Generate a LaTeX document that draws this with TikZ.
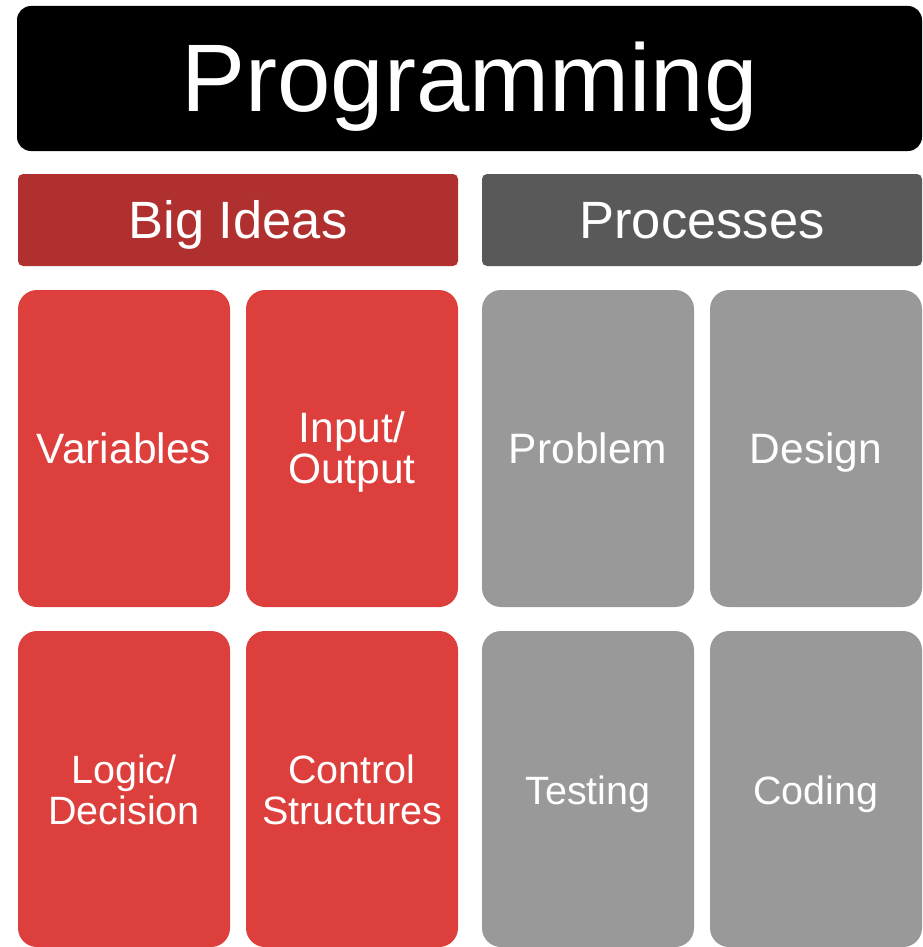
\documentclass[tikz,border=0pt]{standalone}
\usepackage{fontspec}
\setmainfont{Liberation Sans}
\definecolor{hdrred}{RGB}{176,48,48}
\definecolor{hdrgray}{RGB}{89,89,89}
\definecolor{boxred}{RGB}{220,63,60}
\definecolor{boxgray}{RGB}{153,153,153}
\tikzset{
  base/.style={rectangle, inner sep=0pt, outer sep=0pt, text=white, align=center, text depth=0pt},
  titlebox/.style={base, fill=black, rounded corners=14pt, minimum width=905pt, minimum height=145pt, font=\fontsize{96}{96}\selectfont, text height=67pt},
  header/.style={base, rounded corners=5pt, minimum width=440pt, minimum height=92pt, font=\fontsize{52.5}{52.5}\selectfont, text height=36pt},
  tile/.style={base, rounded corners=19pt, minimum width=212pt, minimum height=317pt, font=\fontsize{42.5}{41}\selectfont, text height=29pt},
  twoline/.style={text height=69pt},
  lowtile/.style={minimum height=316pt, text height=30pt, font=\fontsize{39.5}{41}\selectfont},
  lowtwoline/.style={minimum height=316pt, text height=70pt, font=\fontsize{39.5}{41}\selectfont},
  redtile/.style={tile, fill=boxred},
  graytile/.style={tile, fill=boxgray}
}
\begin{document}
\begin{tikzpicture}[x=1pt,y=-1pt]
\useasboundingbox (0,0) rectangle (922,947);
\node[titlebox] (title) at (469.5,78.5) {Programming};
\node[header, fill=hdrred] (big) at (238,220) {Big Ideas};
\node[header, fill=hdrgray] (proc) at (702,220) {Processes};
\node[redtile] (var) at (124,448.5) {Variables};
\node[redtile, twoline] (io) at (352,448.5) {Input/\\Output};
\node[graytile] (prob) at (588,448.5) {Problem};
\node[graytile] (des) at (816,448.5) {Design};
\node[redtile, lowtwoline] (logic) at (124,789) {Logic/\\Decision};
\node[redtile, lowtwoline] (ctrl) at (352,789) {Control\\Structures};
\node[graytile, lowtile] (test) at (588,789) {Testing};
\node[graytile, lowtile] (code) at (816,789) {Coding};
\end{tikzpicture}
\end{document}
